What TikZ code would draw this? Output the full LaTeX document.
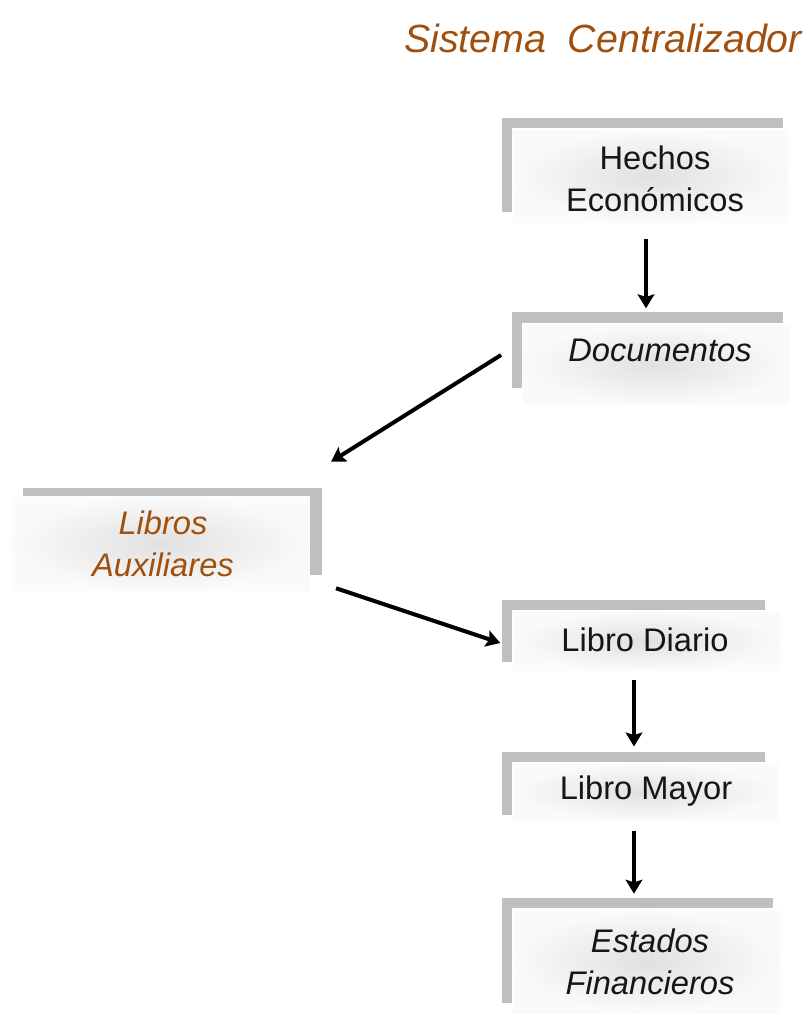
\documentclass[tikz,border=0pt]{standalone}
\usepackage{fontspec}
\setmainfont{Liberation Sans}
\usetikzlibrary{arrows.meta,calc}
\definecolor{brownish}{RGB}{160,80,14}
\definecolor{barcol}{RGB}{191,191,191}
\definecolor{txt}{RGB}{22,22,22}
\tikzset{
  bar/.style={fill=barcol},
  panel/.style={inner color=black!12, outer color=black!2},
  lbl/.style={align=center, text=txt, font=\fontsize{24.5pt}{31.5pt}\selectfont, inner sep=0pt},
  arr/.style={-{Stealth[length=10.5pt,width=12.5pt,inset=2pt]}, line width=3pt, black},
}
\begin{document}
\begin{tikzpicture}[x=0.75pt,y=-0.75pt]
\useasboundingbox (0,0) rectangle (811,1015);
% title
\node[font=\fontsize{29.5pt}{34pt}\selectfont\itshape, text=brownish, inner sep=0pt] (title) at (603,38) {Sistema\ \ Centralizador};
% Hechos
\fill[bar] (502,118) rectangle (783,128);
\fill[bar] (502,118) rectangle (512,212);
\shade[panel] (513,130) rectangle (788,222);
\node[lbl] (hechos) at (655,179) {Hechos\\Económicos};
% Documentos
\fill[bar] (512,312) rectangle (783,323);
\fill[bar] (512,312) rectangle (522,388);
\shade[panel] (523,325) rectangle (790,404);
\node[lbl, font=\fontsize{24.5pt}{31.5pt}\selectfont\itshape] (docs) at (660,350) {Documentos};
% Libros Auxiliares
\fill[bar] (23,488) rectangle (322,496);
\fill[bar] (310,488) rectangle (322,575);
\shade[panel] (12,497) rectangle (309,590);
\node[lbl, text=brownish, font=\fontsize{24.5pt}{31.5pt}\selectfont\itshape] (libros) at (163,544) {Libros\\Auxiliares};
% Libro Diario
\fill[bar] (502,600) rectangle (765,610);
\fill[bar] (502,600) rectangle (512,662);
\shade[panel] (513,612) rectangle (780,670);
\node[lbl] (diario) at (645,640) {Libro Diario};
% Libro Mayor
\fill[bar] (502,752) rectangle (765,762);
\fill[bar] (502,752) rectangle (512,815);
\shade[panel] (513,764) rectangle (778,820);
\node[lbl] (mayor) at (646,791) {Libro Mayor};
% Estados Financieros
\fill[bar] (502,898) rectangle (773,908);
\fill[bar] (502,898) rectangle (512,1003);
\shade[panel] (513,910) rectangle (780,1013);
\node[lbl, font=\fontsize{24.5pt}{31.5pt}\selectfont\itshape] (estados) at (650,962) {Estados\\Financieros};
% arrows
\draw[arr] ($(hechos.south)+(-9,27)$) -- ($(docs.north)+(-14,-30)$);
\draw[arr] ($(docs.west)+(-67,5)$) -- ($(libros.north east)+(97,-49)$);
\draw[arr] ($(libros.south east)+(102,11)$) -- ($(diario.west)+(-61,3)$);
\draw[arr] ($(diario.south)+(-11,28)$) -- ($(mayor.north)+(-12,-29)$);
\draw[arr] ($(mayor.south)+(-12,24)$) -- ($(estados.north)+(-16,-35)$);
\end{tikzpicture}
\end{document}
